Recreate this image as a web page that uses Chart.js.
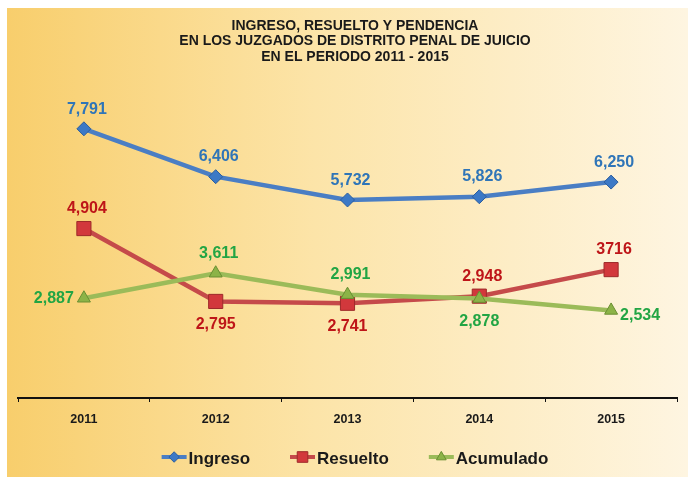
<!DOCTYPE html>
<html><head><meta charset="utf-8">
<script src="https://cdn.jsdelivr.net/npm/chart.js@4"></script>
<style>html,body{margin:0;padding:0;background:#fff;}#wrap{width:688px;height:477px;}</style>
</head><body><div id="wrap"><canvas id="c" width="688" height="477"></canvas></div>
<script>
const categories = ['2011', '2012', '2013', '2014', '2015'];
const ingreso = [7791, 6406, 5732, 5826, 6250];
const resuelto = [4904, 2795, 2741, 2948, 3716];
const acumulado = [2887, 3611, 2991, 2878, 2534];
const ingresoText = ['7,791', '6,406', '5,732', '5,826', '6,250'];
const resueltoText = ['4,904', '2,795', '2,741', '2,948', '3716'];
const acumuladoText = ['2,887', '3,611', '2,991', '2,878', '2,534'];
const titleLines = ['INGRESO, RESUELTO Y PENDENCIA', 'EN LOS JUZGADOS DE DISTRITO PENAL DE JUICIO', 'EN EL PERIODO 2011 - 2015'];

const ingresoPos = ['top', 'top', 'top', 'top', 'top'];
const resueltoPos = ['top', 'bottom', 'bottom', 'top', 'top'];
const acumuladoPos = ['left', 'top', 'top', 'bottom', 'right'];

const FONT = '"Liberation Sans", Arial, sans-serif';

const styles = [
  {line: '#4A7EC4', fill: '#3C79C6', edge: '#2C5E9E', text: '#2F75B8', shape: 'rectRot', r: 7},
  {line: '#C54A4A', fill: '#D2383C', edge: '#9E2A2A', text: '#BE1518', shape: 'rect', r: 10},
  {line: '#9BBB59', fill: '#8CB347', edge: '#6A8F32', text: '#22A544', shape: 'triangle', r: 7.5}
];
const textArrays = [ingresoText, resueltoText, acumuladoText];
const posArrays = [ingresoPos, resueltoPos, acumuladoPos];

function marker(ctx, shape, x, y, r, fill, edge) {
  ctx.save();
  ctx.fillStyle = fill; ctx.strokeStyle = edge; ctx.lineWidth = 1;
  ctx.beginPath();
  if (shape === 'rectRot') {
    ctx.moveTo(x - r, y); ctx.lineTo(x, y - r); ctx.lineTo(x + r, y); ctx.lineTo(x, y + r); ctx.closePath();
  } else if (shape === 'rect') {
    const s = r * Math.SQRT1_2; ctx.rect(x - s, y - s, 2 * s, 2 * s);
  } else {
    ctx.moveTo(x, y - r);
    ctx.lineTo(x + r * Math.sin(2 * Math.PI / 3), y + r / 2);
    ctx.lineTo(x - r * Math.sin(2 * Math.PI / 3), y + r / 2);
    ctx.closePath();
  }
  ctx.fill(); ctx.stroke();
  ctx.restore();
}

const deco = {
  id: 'deco',
  beforeDraw(chart) {
    const {ctx, width, height} = chart;
    ctx.save();
    ctx.fillStyle = '#ffffff';
    ctx.fillRect(0, 0, width, height);
    const g = ctx.createLinearGradient(7, 0, width, 0);
    g.addColorStop(0, '#F8CE6C');
    g.addColorStop(0.45, '#FCE4A8');
    g.addColorStop(1, '#FEF5E1');
    ctx.fillStyle = g;
    ctx.fillRect(7, 8, width - 7, height - 8);
    ctx.fillStyle = '#1a1a1a';
    ctx.font = 'bold 14px ' + FONT;
    ctx.textAlign = 'center';
    ctx.textBaseline = 'alphabetic';
    const ys = [29.5, 45, 60.5];
    titleLines.forEach((t, i) => ctx.fillText(t, 355, ys[i]));
    ctx.restore();
  },
  afterDatasetsDraw(chart) {
    const ctx = chart.ctx;
    ctx.save();
    ctx.font = 'bold 16px ' + FONT;
    ctx.textBaseline = 'alphabetic';
    const capH = 0.716 * 16;
    [0, 1, 2].forEach(i => {
      const meta = chart.getDatasetMeta(i);
      ctx.fillStyle = styles[i].text;
      meta.data.forEach((p, j) => {
        const pos = posArrays[i][j];
        const t = textArrays[i][j];
        if (pos === 'top') {
          ctx.textAlign = 'center'; ctx.fillText(t, p.x + 3, p.y - 21 + capH / 2);
        } else if (pos === 'bottom') {
          ctx.textAlign = 'center'; ctx.fillText(t, p.x, p.y + 22 + capH / 2);
        } else if (pos === 'left') {
          ctx.textAlign = 'right'; ctx.fillText(t, p.x - 10, p.y + capH / 2 - 0.5);
        } else {
          ctx.textAlign = 'left'; ctx.fillText(t, p.x + 9, p.y + 4 + capH / 2);
        }
      });
    });
    ctx.restore();
  },
  afterDraw(chart) {
    const ctx = chart.ctx;
    ctx.save();
    ctx.font = 'bold 17px ' + FONT;
    ctx.textBaseline = 'alphabetic';
    ctx.textAlign = 'left';
    const iconW = 25, gap = 2, spacing = 40;
    const names = chart.data.datasets.map(d => d.label);
    const widths = names.map(n => ctx.measureText(n).width);
    let total = spacing * (names.length - 1);
    widths.forEach(w => total += iconW + gap + w);
    let x = 355 - total / 2;
    const yc = 457;
    names.forEach((n, i) => {
      const s = styles[i];
      ctx.strokeStyle = s.line; ctx.lineWidth = 4;
      ctx.beginPath(); ctx.moveTo(x, yc); ctx.lineTo(x + iconW, yc); ctx.stroke();
      marker(ctx, s.shape, x + iconW / 2, yc, s.r * 0.75, s.fill, s.edge);
      ctx.fillStyle = '#1a1a1a';
      ctx.fillText(n, x + iconW + gap, yc + 1.3 + 0.716 * 17 / 2);
      x += iconW + gap + widths[i] + spacing;
    });
    ctx.restore();
  }
};

function ds(label, data, i, order) {
  const s = styles[i];
  return {
    label, data, order,
    borderColor: s.line, backgroundColor: s.fill, borderWidth: 4.5, tension: 0,
    pointStyle: s.shape, pointRadius: s.r, pointHoverRadius: s.r,
    pointBackgroundColor: s.fill, pointBorderColor: s.edge, pointBorderWidth: 1
  };
}

new Chart(document.getElementById('c'), {
  type: 'line',
  data: {
    labels: categories,
    datasets: [ds('Ingreso', ingreso, 0, 2), ds('Resuelto', resuelto, 1, 1), ds('Acumulado', acumulado, 2, 0)]
  },
  plugins: [deco],
  options: {
    responsive: false,
    animation: false,
    events: [],
    layout: {padding: {top: 52.5, left: 18, right: 11, bottom: 0}},
    plugins: {legend: {display: false}, title: {display: false}, tooltip: {enabled: false}},
    scales: {
      y: {display: false, min: 0, max: 10000},
      x: {
        offset: true,
        afterFit(scale) { scale.height = 79; },
        border: {display: true, color: '#111', width: 2},
        grid: {offset: true, drawOnChartArea: false, drawTicks: true, tickLength: 4, color: '#111', lineWidth: 1},
        ticks: {padding: 10.5, color: '#1a1a1a', font: {family: FONT, size: 12.5, weight: 'bold'}}
      }
    }
  }
});
</script>
</body></html>
